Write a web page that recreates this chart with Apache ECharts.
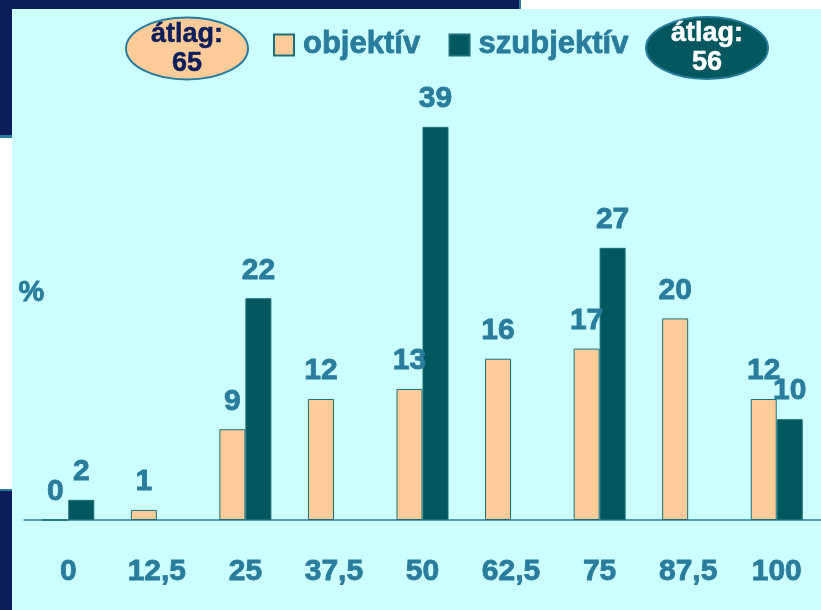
<!DOCTYPE html>
<html>
<head>
<meta charset="utf-8">
<script src="https://cdn.jsdelivr.net/npm/echarts@6/dist/echarts.min.js"></script>
<style>
  html, body { margin: 0; padding: 0; background: #fff; }
  #chart { width: 821px; height: 610px; }
</style>
</head>
<body>
<div id="chart"></div>
<script>
// adatok
var kategoriak = ["0", "12,5", "25", "37,5", "50", "62,5", "75", "87,5", "100"];
var objektiv = [0, 1, 9, 12, 13, 16, 17, 20, 12];
var szubjektiv = [2, null, 22, null, 39, null, 27, null, 10];
var atlagObjektiv = 65;
var atlagSzubjektiv = 56;

var navy = "#0B1D5A";
var kek = "#2A7C9C";
var narancs = "#FFCC99";
var sotet = "#02585E";
var font = "Liberation Sans, Arial, sans-serif";

var cimke = {
  show: true,
  position: "top",
  distance: 13,
  color: kek,
  fontSize: 30,
  fontWeight: "bold",
  fontFamily: font,
  textBorderColor: kek,
  textBorderWidth: 0.8
};

var chart = echarts.init(document.getElementById("chart"));
chart.setOption({
  backgroundColor: "#CCFFFF",
  animation: false,
  grid: { left: 24, right: 0, top: 16, bottom: 90 },
  legend: {
    left: 268,
    top: 24,
    itemWidth: 20,
    itemHeight: 21,
    itemGap: 28,
    icon: "rect",
    textStyle: {
      color: kek, fontSize: 31, fontWeight: "bold", fontFamily: font,
      padding: [0, 0, 0, 4], textBorderColor: kek, textBorderWidth: 0.8
    },
    data: ["objektív", "szubjektív"]
  },
  xAxis: {
    type: "category",
    data: kategoriak,
    axisLine: { lineStyle: { color: kek, width: 1.5 } },
    axisTick: { show: false },
    axisLabel: {
      color: kek, fontSize: 30, fontWeight: "bold", fontFamily: font, margin: 37,
      textBorderColor: kek, textBorderWidth: 0.8
    }
  },
  yAxis: { type: "value", min: 0, max: 50, show: false },
  series: [
    {
      name: "objektív",
      type: "bar",
      data: objektiv,
      barWidth: 26,
      barGap: "0%",
      itemStyle: { color: narancs, borderColor: "#1B6E75", borderWidth: 1 },
      label: cimke
    },
    {
      name: "szubjektív",
      type: "bar",
      data: szubjektiv,
      barWidth: 26,
      itemStyle: { color: sotet, borderColor: "#1B6E75", borderWidth: 1 },
      label: cimke
    }
  ],
  graphic: [
    // keret
    { type: "rect", shape: { x: 0, y: 0, width: 519, height: 9 }, style: { fill: navy } },
    { type: "rect", shape: { x: 519, y: 0, width: 2, height: 9 }, style: { fill: kek } },
    { type: "rect", shape: { x: 521, y: 0, width: 300, height: 9 }, style: { fill: "#fff" } },
    { type: "rect", shape: { x: 0, y: 0, width: 12, height: 135 }, style: { fill: navy } },
    { type: "rect", shape: { x: 0, y: 135, width: 12, height: 3 }, style: { fill: kek } },
    { type: "rect", shape: { x: 0, y: 138, width: 12, height: 351 }, style: { fill: "#fff" } },
    { type: "rect", shape: { x: 0, y: 489, width: 12, height: 2 }, style: { fill: kek } },
    { type: "rect", shape: { x: 0, y: 491, width: 12, height: 119 }, style: { fill: navy } },
    // % jel
    { type: "text", left: 18, top: 278, style: { text: "%", fill: kek, stroke: kek, lineWidth: 0.8, font: "bold 29px " + font } },
    // átlag ellipszisek
    { type: "ellipse", shape: { cx: 187, cy: 48.5, rx: 61, ry: 31 }, style: { fill: narancs, stroke: kek, lineWidth: 2 } },
    { type: "text", x: 187, y: 49, style: { text: "átlag:\n" + atlagObjektiv, fill: navy, stroke: navy, lineWidth: 0.5, font: "bold 27px " + font, align: "center", verticalAlign: "middle", lineHeight: 29 } },
    { type: "ellipse", shape: { cx: 707, cy: 48, rx: 61, ry: 31 }, style: { fill: sotet, stroke: kek, lineWidth: 2 } },
    { type: "text", x: 707, y: 48, style: { text: "átlag:\n" + atlagSzubjektiv, fill: "#fff", stroke: "#fff", lineWidth: 0.5, font: "bold 27px " + font, align: "center", verticalAlign: "middle", lineHeight: 29 } }
  ]
});
</script>
</body>
</html>
